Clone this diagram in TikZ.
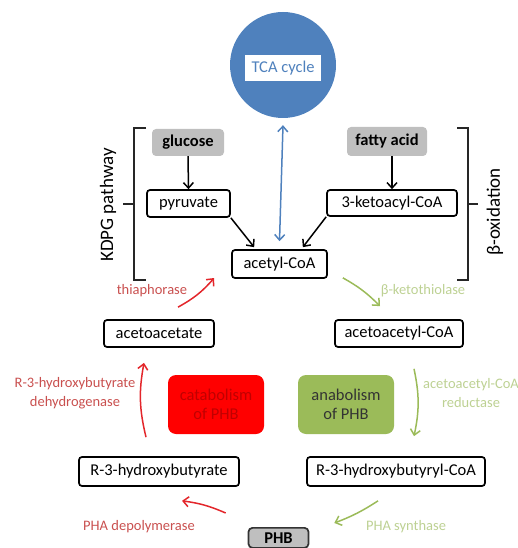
\documentclass[tikz,border=0pt]{standalone}
\usepackage{fontspec}
\setmainfont{Carlito}
\usetikzlibrary{arrows.meta}

\definecolor{tcablue}{HTML}{4F81BD}
\definecolor{srcgray}{HTML}{BFBFBF}
\definecolor{catred}{HTML}{FF0000}
\definecolor{catredtext}{HTML}{C00000}
\definecolor{redarrow}{HTML}{E3262B}
\definecolor{redlabel}{HTML}{C9504F}
\definecolor{anagreen}{HTML}{9BBB59}
\definecolor{greenarrow}{HTML}{9BBB59}
\definecolor{greenlabel}{HTML}{BDD193}

\tikzset{
  metab/.style={draw=black, line width=1.7pt, rounded corners=3pt, fill=white,
    inner sep=0pt, font=\fontsize{16.5}{19}\selectfont},
  substrate/.style={fill=srcgray, rounded corners=4pt, inner sep=0pt,
    font=\fontsize{16.5}{19}\selectfont\bfseries},
  routebox/.style={rounded corners=8pt, inner sep=0pt, align=center,
    font=\fontsize{16.5}{19}\selectfont},
  enzyme/.style={inner sep=0pt, align=center, font=\fontsize{14.5}{19}\selectfont},
  pathlabel/.style={inner sep=0pt, rotate=90, font=\fontsize{19}{22}\selectfont},
  flow/.style={line width=1.5pt, -{Straight Barb[length=5.5pt,width=10pt,line width=1.5pt]}},
  twoway/.style={line width=1.5pt,
    {Straight Barb[length=5.5pt,width=10pt,line width=1.5pt]}-{Straight Barb[length=5.5pt,width=10pt,line width=1.5pt]}},
  redflow/.style={flow, draw=redarrow},
  greenflow/.style={flow, draw=greenarrow},
  brace/.style={line width=1.2pt, draw=black!85}
}

\begin{document}
\begin{tikzpicture}[x=1pt,y=-1pt]
\useasboundingbox (0,0) rectangle (518,548);

% TCA cycle
\node[circle, fill=tcablue, minimum size=106pt, inner sep=0pt] (tca) at (283,65) {};
\node[fill=white, minimum width=76pt, minimum height=26pt, inner sep=0pt,
      text=tcablue, font=\fontsize{16.5}{19}\selectfont] (tcalabel) at (283,68) {TCA cycle};

% substrates
\node[substrate, minimum width=72pt, minimum height=27pt] (glucose) at (188,142.5) {glucose};
\node[substrate, minimum width=80pt, minimum height=29pt] (fatty) at (387,141.5) {fatty acid};

% central metabolites
\node[metab, minimum width=83pt, minimum height=27pt] (pyruvate) at (188.5,203.5) {pyruvate};
\node[metab, minimum width=130pt, minimum height=26pt] (keto) at (392,203) {3-ketoacyl-CoA};
\node[metab, minimum width=95pt, minimum height=28pt] (acetyl) at (279.5,264) {acetyl-CoA};
\node[metab, minimum width=110pt, minimum height=27pt] (acac) at (159,333.5) {acetoacetate};
\node[metab, minimum width=128pt, minimum height=27pt] (acacoa) at (399,333.5) {acetoacetyl-CoA};
\node[metab, minimum width=160pt, minimum height=29pt] (hb) at (159,471.5) {R-3-hydroxybutyrate};
\node[metab, minimum width=178pt, minimum height=29pt] (hbcoa) at (396,471.5) {R-3-hydroxybutyryl-CoA};
\node[draw=black!80, line width=1.7pt, fill=srcgray, rounded corners=4pt, inner sep=0pt,
      minimum width=60pt, minimum height=20pt, font=\fontsize{16.5}{19}\selectfont\bfseries,
      anchor=north] (phb) at (278.5,527) {PHB};

% catabolism / anabolism
\node[routebox, fill=catred, text=catredtext, minimum width=96pt, minimum height=59pt]
  (cat) at (216,404.5) {catabolism\\of PHB};
\node[routebox, fill=anagreen, text=black!80, minimum width=96pt, minimum height=59pt]
  (ana) at (346,404.5) {anabolism\\of PHB};

% pathway brackets
\draw[brace] (146,128) -- (134,128) -- (134,280) -- (146,280);
\draw[brace] (134,204) -- (123,204);
\draw[brace] (457,128) -- (468,128) -- (468,280) -- (457,280);
\draw[brace] (468,204) -- (478,204);
\node[pathlabel] (kdpg) at (108,205) {KDPG pathway};
\node[pathlabel] (beta) at (495,212) {β-oxidation};

% black conversions
\draw[flow] (glucose.south) -- (pyruvate.north);
\draw[flow] (keto.north |- fatty.south) -- (keto.north);
\draw[flow] (pyruvate.south east) -- ([xshift=23pt,yshift=2pt]acetyl.north west);
\draw[flow] (keto.south west) -- ([xshift=-25pt,yshift=2pt]acetyl.north east);

% exchange with the TCA cycle
\draw[twoway, draw=tcablue] ([yshift=-7pt]tca.south) -- ([yshift=8pt]acetyl.north);

% catabolic route (red)
\draw[redflow] ([xshift=-13pt,yshift=19pt]hb.north) to[bend left=12] ([xshift=-15pt,yshift=-15pt]acac.south);
\draw[redflow] ([xshift=19pt,yshift=12pt]acac.north) to[bend right=10] ([xshift=-17pt,yshift=-14pt]acetyl.west);
\draw[redflow] ([xshift=-22pt,yshift=14pt]phb.north west) to[bend right=8] ([xshift=23pt,yshift=-14pt]hb.south);

% anabolic route (green)
\draw[greenflow] ([xshift=15pt,yshift=1pt]acetyl.south east) to[bend left=8] ([xshift=-19pt,yshift=13pt]acacoa.north);
\draw[greenflow] ([xshift=15pt,yshift=-21pt]acacoa.south) to[bend left=12] ([xshift=18pt,yshift=20pt]hbcoa.north);
\draw[greenflow] ([xshift=-18pt,yshift=-14pt]hbcoa.south) to[bend left=6] ([xshift=25pt,yshift=4pt]phb.north east);

% enzymes
\node[enzyme, text=redlabel] (thia) at (152,291) {thiaphorase};
\node[enzyme, text=greenlabel] (ketoth) at (423,291) {β-ketothiolase};
\node[enzyme, text=redlabel] (hbdh) at (75,393) {R-3-hydroxybutyrate\\dehydrogenase};
\node[enzyme, text=greenlabel] (aar) at (471,393) {acetoacetyl-CoA\\reductase};
\node[enzyme, text=redlabel] (depol) at (139,527) {PHA depolymerase};
\node[enzyme, text=greenlabel] (synth) at (406,527) {PHA synthase};
\end{tikzpicture}
\end{document}
